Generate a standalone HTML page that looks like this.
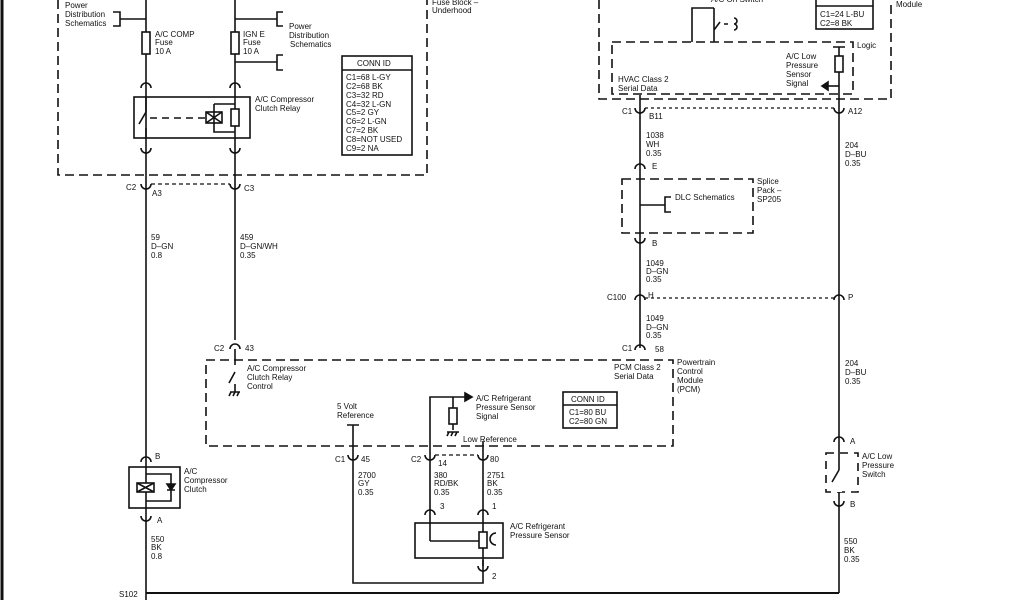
<!DOCTYPE html>
<html><head><meta charset="utf-8"><style>
html,body{margin:0;padding:0;background:#fff;}
svg{display:block;}
text{font-family:"Liberation Sans",sans-serif;font-size:8px;fill:#111;}
</style></head><body>
<svg width="1024" height="600" viewBox="0 0 1024 600" xmlns="http://www.w3.org/2000/svg">
<g stroke="#111" fill="none" stroke-width="1.6">
<line x1="2" y1="0" x2="2" y2="600" stroke-width="3"/>
<path d="M58 0 V175 H427 V0" stroke-dasharray="9,5"/>
<line x1="146" y1="0" x2="146" y2="600"/>
<line x1="235" y1="0" x2="235" y2="340"/>
<path d="M146 19 H120 M113 12 H120 V26 H113"/>
<rect x="142" y="32" width="8" height="22" fill="#fff"/>
<rect x="231" y="32" width="8" height="22" fill="#fff"/>
<path d="M235 19 H277 M283 12 H277 V26 H283 M235 62 H277 M283 55 H277 V70 H283"/>
<path d="M141 88 A5 5 0 0 1 151 88 M230 88 A5 5 0 0 1 240 88"/>
<path d="M141 148 A5 5 0 0 0 151 148 M230 148 A5 5 0 0 0 240 148"/>
<rect x="134" y="97" width="116" height="41"/>
<path d="M146 97 V112 L139 124 M146 128 V138"/>
<path d="M150 118 H205" stroke-dasharray="7,5"/>
<rect x="206" y="112" width="16" height="11"/>
<path d="M206 112 L222 123 M222 112 L206 123"/>
<path d="M214 104 V132 H235 M214 104 H235"/>
<rect x="231" y="109" width="8" height="17" fill="#fff"/>
<rect x="342" y="56" width="70" height="99"/>
<line x1="342" y1="70" x2="412" y2="70"/>
<path d="M141 184 A5 5 0 0 0 151 184 M230 184 A5 5 0 0 0 240 184"/>
<line x1="151" y1="184" x2="230" y2="184" stroke-dasharray="4,3" stroke-width="1.2"/>
<path d="M230 349 A5 5 0 0 1 240 349"/>
<rect x="206" y="360" width="467" height="86" stroke-dasharray="9,5"/>
<path d="M235 349 V365 M235 372 L229 383 M235 384 V392 M230 392 H240 M231 392 L229 396 M235 392 L233 396 M239 392 L237 396"/>
<path d="M347 425 H359 M353 425 V583 H483 V560"/>
<path d="M348 455 A5 5 0 0 0 358 455"/>
<path d="M430 541 V397 H465"/>
<path d="M465 393 L472 397 L465 401 Z" fill="#111"/>
<path d="M453 397 V430 M447 432 H459 M449 432 L447 436 M453 432 L451 436 M457 432 L455 436"/>
<rect x="449" y="408" width="8" height="16" fill="#fff"/>
<line x1="483" y1="441" x2="483" y2="566"/>
<path d="M425 455 A5 5 0 0 0 435 455 M478 455 A5 5 0 0 0 488 455"/>
<line x1="435" y1="455" x2="478" y2="455" stroke-dasharray="4,3" stroke-width="1.2"/>
<path d="M425 515 A5 5 0 0 1 435 515 M478 515 A5 5 0 0 1 488 515"/>
<rect x="415" y="523" width="88" height="35"/>
<path d="M430 541 H479"/>
<rect x="479" y="532" width="8" height="16" fill="#fff"/>
<path d="M496 533 A6 6 0 0 0 496 545"/>
<path d="M478 566 A5 5 0 0 0 488 566"/>
<line x1="146" y1="593" x2="839" y2="593" stroke-width="2"/>
<path d="M141 462 A5 5 0 0 1 151 462 M141 516 A5 5 0 0 0 151 516"/>
<rect x="129" y="467" width="51" height="41"/>
<rect x="137" y="483" width="17" height="9" fill="#fff"/>
<path d="M137 483 L154 492 M154 483 L137 492"/>
<path d="M146 474 H171 V501 H146"/>
<path d="M167 490 H175 M167 484 L175 484 L171 490 Z" fill="#111"/>
<path d="M599 0 V99 H891 V0" stroke-dasharray="9,5"/>
<path d="M612 42 H853 V94 H612 Z" stroke-dasharray="9,5"/>
<path d="M692 42 V8 H714 M714 8 V30 M714 30 V42 M714 30 L720 22 M724 24 H728 M734 18 A3 3 0 0 1 734 24 A3 3 0 0 1 734 30"/>
<rect x="816" y="-2" width="57" height="31"/>
<line x1="816" y1="6" x2="873" y2="6"/>
<path d="M833 47 H845 M839 47 V593"/>
<rect x="835" y="56" width="8" height="16" fill="#fff"/>
<path d="M839 86 H827"/>
<path d="M828 82 L822 86 L828 90 Z" fill="#111"/>
<line x1="640" y1="95" x2="640" y2="348"/>
<path d="M635 108 A5 5 0 0 0 645 108 M834 108 A5 5 0 0 0 844 108"/>
<line x1="645" y1="108" x2="834" y2="108" stroke-dasharray="3,3" stroke-width="1.2"/>
<path d="M635 169 A5 5 0 0 1 645 169 M635 238 A5 5 0 0 0 645 238"/>
<rect x="622" y="179" width="131" height="54" stroke-dasharray="9,5"/>
<path d="M640 205 H665 M671 197 H665 V212 H671"/>
<path d="M635 300 A5 5 0 0 1 645 300 M834 300 A5 5 0 0 1 844 300"/>
<line x1="645" y1="298" x2="834" y2="298" stroke-dasharray="3,3" stroke-width="1.2"/>
<path d="M635 350 A5 5 0 0 1 645 350"/>
<rect x="563" y="392" width="54" height="36"/>
<line x1="563" y1="405" x2="617" y2="405"/>
<path d="M834 442 A5 5 0 0 1 844 442 M834 501 A5 5 0 0 0 844 501"/>
<rect x="826" y="453" width="32" height="39" stroke-dasharray="8,6"/>
<rect x="836" y="470" width="6" height="22" fill="#fff" stroke="none"/>
<path d="M839 470 L832 482"/>
</g>
<text x="65" y="8">Power</text><text x="65" y="17">Distribution</text><text x="65" y="26">Schematics</text>
<text x="155" y="37">A/C COMP</text><text x="155" y="45">Fuse</text><text x="155" y="54">10 A</text>
<text x="243" y="37">IGN E</text><text x="243" y="45">Fuse</text><text x="243" y="54">10 A</text>
<text x="289" y="29">Power</text><text x="289" y="38">Distribution</text><text x="290" y="47">Schematics</text>
<text x="255" y="102">A/C Compressor</text><text x="255" y="111">Clutch Relay</text>
<text x="357" y="66">CONN ID</text>
<text x="346" y="80">C1=68 L-GY</text><text x="346" y="89">C2=68 BK</text><text x="346" y="98">C3=32 RD</text><text x="346" y="107">C4=32 L-GN</text><text x="346" y="115">C5=2 GY</text><text x="346" y="124">C6=2 L-GN</text><text x="346" y="133">C7=2 BK</text><text x="346" y="142">C8=NOT USED</text><text x="346" y="151">C9=2 NA</text>
<text x="432" y="5">Fuse Block –</text><text x="432" y="13">Underhood</text>
<text x="126" y="190">C2</text><text x="152" y="196">A3</text><text x="244" y="191">C3</text>
<text x="151" y="240">59</text><text x="151" y="249">D–GN</text><text x="151" y="258">0.8</text>
<text x="240" y="240">459</text><text x="240" y="249">D–GN/WH</text><text x="240" y="258">0.35</text>
<text x="214" y="351">C2</text><text x="245" y="351">43</text>
<text x="247" y="371">A/C Compressor</text><text x="247" y="380">Clutch Relay</text><text x="247" y="389">Control</text>
<text x="337" y="409">5 Volt</text><text x="337" y="418">Reference</text>
<text x="476" y="401">A/C Refrigerant</text><text x="476" y="410">Pressure Sensor</text><text x="476" y="419">Signal</text>
<text x="463" y="442">Low Reference</text>
<text x="335" y="462">C1</text><text x="361" y="462">45</text>
<text x="411" y="462">C2</text><text x="438" y="466">14</text><text x="490" y="462">80</text>
<text x="358" y="478">2700</text><text x="358" y="486">GY</text><text x="358" y="495">0.35</text>
<text x="434" y="478">380</text><text x="434" y="486">RD/BK</text><text x="434" y="495">0.35</text>
<text x="487" y="478">2751</text><text x="487" y="486">BK</text><text x="487" y="495">0.35</text>
<text x="440" y="509">3</text><text x="492" y="509">1</text><text x="492" y="579">2</text>
<text x="510" y="529">A/C Refrigerant</text><text x="510" y="538">Pressure Sensor</text>
<text x="155" y="459">B</text><text x="157" y="523">A</text>
<text x="184" y="474">A/C</text><text x="184" y="483">Compressor</text><text x="184" y="492">Clutch</text>
<text x="151" y="542">550</text><text x="151" y="550">BK</text><text x="151" y="559">0.8</text>
<text x="119" y="597">S102</text>
<text x="711" y="2">A/C On Switch</text>
<text x="820" y="17">C1=24 L-BU</text><text x="820" y="26">C2=8 BK</text>
<text x="896" y="7">Module</text><text x="857" y="48">Logic</text>
<text x="786" y="59">A/C Low</text><text x="786" y="68">Pressure</text><text x="786" y="77">Sensor</text><text x="786" y="86">Signal</text>
<text x="618" y="82">HVAC Class 2</text><text x="618" y="91">Serial Data</text>
<text x="622" y="114">C1</text><text x="649" y="119">B11</text><text x="848" y="114">A12</text>
<text x="646" y="138">1038</text><text x="646" y="147">WH</text><text x="646" y="156">0.35</text>
<text x="845" y="148">204</text><text x="845" y="157">D–BU</text><text x="845" y="166">0.35</text>
<text x="652" y="169">E</text><text x="652" y="246">B</text>
<text x="675" y="200">DLC Schematics</text>
<text x="757" y="184">Splice</text><text x="757" y="193">Pack –</text><text x="757" y="202">SP205</text>
<text x="646" y="266">1049</text><text x="646" y="274">D–GN</text><text x="646" y="282">0.35</text>
<text x="607" y="300">C100</text><text x="648" y="298">H</text><text x="848" y="300">P</text>
<text x="646" y="321">1049</text><text x="646" y="330">D–GN</text><text x="646" y="338">0.35</text>
<text x="622" y="351">C1</text><text x="655" y="352">58</text>
<text x="614" y="370">PCM Class 2</text><text x="614" y="379">Serial Data</text>
<text x="677" y="365">Powertrain</text><text x="677" y="374">Control</text><text x="677" y="383">Module</text><text x="677" y="392">(PCM)</text>
<text x="571" y="402">CONN ID</text><text x="569" y="415">C1=80 BU</text><text x="569" y="424">C2=80 GN</text>
<text x="845" y="366">204</text><text x="845" y="375">D–BU</text><text x="845" y="384">0.35</text>
<text x="850" y="444">A</text><text x="850" y="507">B</text>
<text x="862" y="459">A/C Low</text><text x="862" y="468">Pressure</text><text x="862" y="477">Switch</text>
<text x="844" y="544">550</text><text x="844" y="553">BK</text><text x="844" y="562">0.35</text>
</svg>
</body></html>
